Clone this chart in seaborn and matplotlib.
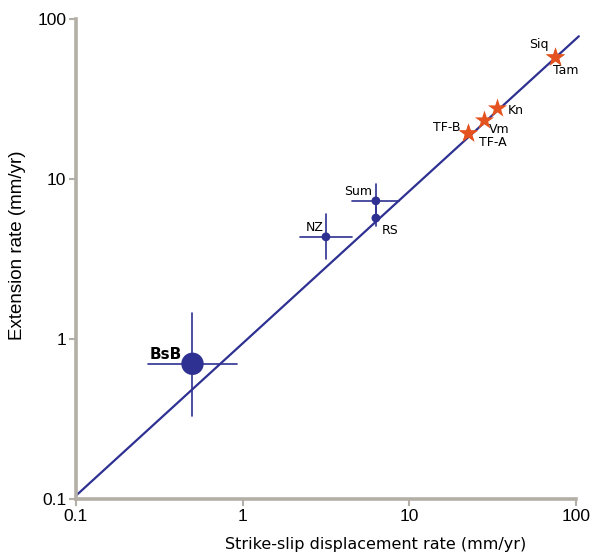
import numpy as np
import pandas as pd
import matplotlib
matplotlib.use("Agg")
import matplotlib.pyplot as plt
import seaborn as sns

# ---- data ----
site_names = ["BsB", "NZ", "Sum", "RS"]
site_x = [0.50, 3.16, 6.3, 6.3]
site_y = [0.70, 4.35, 7.3, 5.7]
site_x_lo = [0.27, 2.2, 4.5, 6.3]
site_x_hi = [0.93, 4.5, 8.7, 6.3]
site_y_lo = [0.33, 3.16, 5.9, 5.1]
site_y_hi = [1.45, 6.0, 9.3, 6.8]

star_names = ["Siq", "Tam", "Kn", "Vm", "TF-B", "TF-A"]
star_x = [74.5, 74.5, 33.5, 28.0, 22.6, 22.6]
star_y = [58.0, 58.0, 27.8, 23.4, 19.4, 19.4]

fit_x = [0.1, 104.0]
fit_y = [0.105, 78.0]

xticks = [0.1, 1, 10, 100]
xticklabels = ["0.1", "1", "10", "100"]
yticks = [0.1, 1, 10, 100]
yticklabels = ["0.1", "1", "10", "100"]

# ---- style ----
sns.set_theme(style="white")
plt.rcParams['font.family'] = ['Liberation Sans', 'DejaVu Sans']
plt.rcParams['text.color'] = 'black'
plt.rcParams['axes.labelcolor'] = 'black'

BLUE = "#2e3192"
STAR = "#e4531f"
SPINE = "#b3aea6"

fig = plt.figure(figsize=(5.9, 5.59), dpi=100)
ax = fig.add_axes([76/590, 1-499/559, (576-76)/590, (499-19)/559])

sns.lineplot(x=fit_x, y=fit_y, ax=ax, color=BLUE, linewidth=1.6, clip_on=False)

# error bars
for i in range(len(site_names)):
    if site_x_hi[i] > site_x_lo[i]:
        ax.plot([site_x_lo[i], site_x_hi[i]], [site_y[i], site_y[i]], color=BLUE, lw=1.2)
    ax.plot([site_x[i], site_x[i]], [site_y_lo[i], site_y_hi[i]], color=BLUE, lw=1.2)

df = pd.DataFrame({"x": site_x, "y": site_y, "name": site_names})
sizes = [260 if n == "BsB" else 40 for n in site_names]
sns.scatterplot(data=df, x="x", y="y", ax=ax, s=sizes, color=BLUE, edgecolor=BLUE,
                linewidth=0, zorder=5, legend=False)

sdf = pd.DataFrame({"x": star_x, "y": star_y})
sns.scatterplot(data=sdf, x="x", y="y", ax=ax, marker="*", s=210, color=STAR,
                edgecolor=STAR, linewidth=0, zorder=6, legend=False)

ax.set_xscale("log")
ax.set_yscale("log")
ax.set_xlim(0.1, 100)
ax.set_ylim(0.1, 100)

# labels
offsets = {
    "BsB": (-27, 9), "NZ": (-11, 9), "Sum": (-18, 9), "RS": (14, -12),
    "Siq": (-16, 12), "Tam": (11, -14), "Kn": (19, -3), "Vm": (15, -10),
    "TF-B": (-22, 5), "TF-A": (24, -10),
}
for n, x, y in zip(site_names + star_names, site_x + star_x, site_y + star_y):
    if n == "BsB":
        ax.annotate(n, (x, y), xytext=offsets[n], textcoords="offset pixels",
                    ha="center", va="center", fontsize=11, fontweight="bold",
                    family="DejaVu Sans")
    else:
        ax.annotate(n, (x, y), xytext=offsets[n], textcoords="offset pixels",
                    ha="center", va="center", fontsize=9, family="DejaVu Sans")

ax.set_xticks(xticks)
ax.set_xticklabels(xticklabels)
ax.set_yticks(yticks)
ax.set_yticklabels(yticklabels)
ax.minorticks_off()
ax.tick_params(axis="both", which="major", direction="out", length=5, width=1.5,
               color=SPINE, labelsize=12.5, labelcolor="black", pad=2,
               bottom=True, left=True)

for side in ["top", "right"]:
    ax.spines[side].set_visible(False)
for side in ["left", "bottom"]:
    ax.spines[side].set_color(SPINE)
    ax.spines[side].set_linewidth(2.6)

ax.set_xlabel("")
ax.set_ylabel("")
fig.text(18/590, 1-245/559, "Extension rate (mm/yr)", rotation=90, ha="center",
         va="center", fontsize=13.5)
fig.text(376/590, 1-545/559, "Strike-slip displacement rate (mm/yr)", ha="center",
         va="center", fontsize=11.5, family="DejaVu Sans")

fig.savefig("out.png", dpi=100)
